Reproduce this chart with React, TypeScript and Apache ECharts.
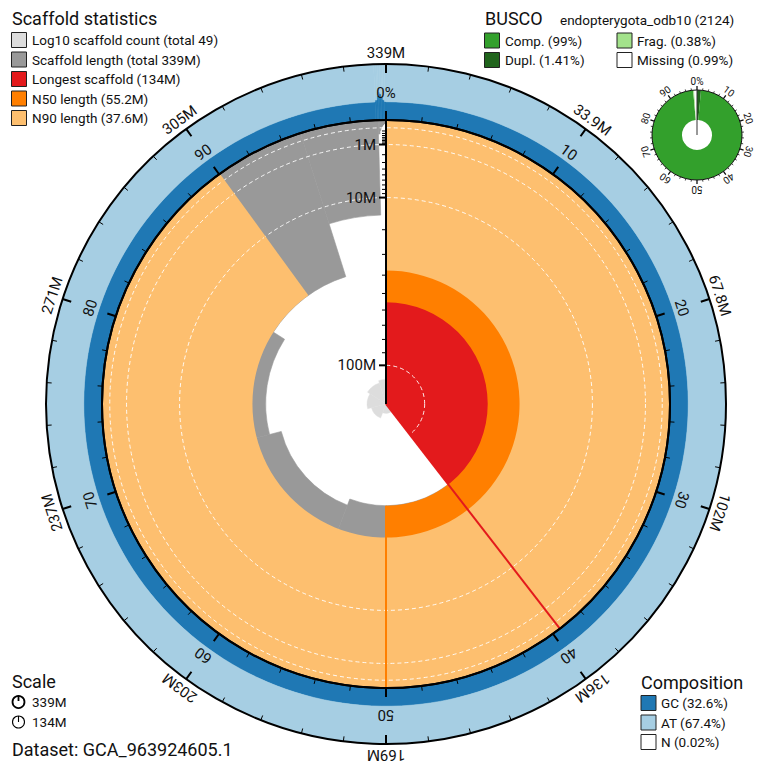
import React, { useEffect, useRef } from "react";
import * as echarts from "echarts";

// ---------------- data ----------------
// scaffold lengths in Mb, sorted descending (49 scaffolds)
const scaffoldLengthsMb = [
  134.0, 55.2, 51.3, 44.5, 37.6, 15.0, 0.32, 0.18, 0.11, 0.085, 0.07, 0.06, 0.052, 0.046, 0.041, 0.037,
  0.034, 0.031, 0.029, 0.027, 0.025, 0.024, 0.022, 0.021, 0.02, 0.019, 0.018, 0.017, 0.016, 0.015, 0.015,
  0.014, 0.013, 0.013, 0.012, 0.012, 0.011, 0.011, 0.01, 0.01, 0.0095, 0.009, 0.0085, 0.008, 0.0075,
  0.007, 0.0065, 0.006, 0.0055,
];
const scaffoldCount = 49;
const n50Mb = 55.2;
const n90Mb = 37.6;
const statPct = [50, 90]; // N50, N90 positions (% of assembly)
const totalLabel = "339M";
const longestLabel = "134M";
const n50Label = "55.2M";
const n90Label = "37.6M";

const assemblyTickPct = [0, 10, 20, 30, 40, 50, 60, 70, 80, 90];
const assemblyTickLabels = ["339M", "33.9M", "67.8M", "102M", "136M", "169M", "203M", "237M", "271M", "305M"];
const percentTickLabels = ["0%", "10", "20", "30", "40", "50", "60", "70", "80", "90"];

const lengthMajorTicksMb = [100, 10, 1];
const lengthMajorLabels = ["100M", "10M", "1M"];
const lengthMinorTicksMb = [90, 80, 70, 60, 50, 40, 30, 20, 9, 8, 7, 6, 5, 4, 3, 2, 0.9, 0.8, 0.7, 0.6, 0.5, 0.4, 0.3, 0.2];
const lengthGridMb = [100, 10, 1, 0.1];

// base composition per bin (% of assembly)
const compStartPct = [0, 99.42, 99.52, 99.6, 99.68, 99.76, 99.84, 99.92];
const compEndPct = [99.42, 99.52, 99.6, 99.68, 99.76, 99.84, 99.92, 100];
const compGcPct = [32.6, 36, 43, 50, 47, 41, 36, 33];
const gcTotal = 32.6;
const atTotal = 67.4;
const nTotal = 0.02;

// BUSCO
const buscoSet = "endopterygota_odb10 (2124)";
const buscoSliceNames = ["Dupl.", "Comp. (single)", "Frag.", "Missing"];
const buscoSlicePct = [1.41, 97.22, 0.38, 0.99];
const buscoCompletePct = 99;
const buscoTickPct = [0, 10, 20, 30, 40, 50, 60, 70, 80, 90];

const datasetName = "GCA_963924605.1";

// ---------------- colours ----------------
const C = {
  count: "#dddddd",
  length: "#999999",
  longest: "#e31a1c",
  n50: "#ff7f00",
  n90: "#fdbf6f",
  gc: "#1f78b4",
  at: "#a6cee3",
  comp: "#33a02c",
  dupl: "#20641c",
  frag: "#a3e28b",
  missing: "#ffffff",
};
const FONT = "Roboto";

// ---------------- derived ----------------
const LMAX = scaffoldLengthsMb[0];
const TOTAL = scaffoldLengthsMb.reduce((a, b) => a + b, 0);
const depth = (L: number) => 1 - Math.sqrt(L / LMAX); // radial value (0 = centre, 1 = edge)
const cumStart: number[] = [];
const cumEnd: number[] = [];
{
  let acc = 0;
  scaffoldLengthsMb.forEach((L) => {
    cumStart.push((acc / TOTAL) * 100);
    acc += L;
    cumEnd.push((acc / TOTAL) * 100);
  });
}

const TAU = Math.PI * 2;
const ctr = (params: any) => [params.coordSys.cx, params.coordSys.cy];
const dist = (p: number[], c: number[]) => Math.hypot(p[0] - c[0], p[1] - c[1]);
const angOf = (api: any, c: number[], refR: number, a: number) => {
  const p = api.coord([refR, a]);
  return Math.atan2(p[1] - c[1], p[0] - c[0]);
};

function sectorRender(fill: string, refR: number, seam = 0.6) {
  return (params: any, api: any) => {
    const c = ctr(params);
    const rIn = api.value(0);
    const a0 = api.value(1);
    const a1 = api.value(2);
    const rOut = api.value(3);
    const s = angOf(api, c, refR, a0);
    let d = angOf(api, c, refR, a1) - s;
    while (d <= 1e-9) d += TAU;
    const r0 = dist(api.coord([rIn, a0]), c);
    const r = dist(api.coord([rOut, a0]), c);
    if (r - r0 < 0.01) return null;
    return {
      type: "sector",
      shape: { cx: c[0], cy: c[1], r0, r, startAngle: s, endAngle: s + d, clockwise: true },
      style: { fill, stroke: seam > 0 ? fill : "none", lineWidth: seam },
      silent: true,
    };
  };
}

function radialLineRender(colors: string[], width: number) {
  return (params: any, api: any) => {
    const c = ctr(params);
    const a = api.value(1);
    const p0 = api.coord([api.value(0), a]);
    const p1 = api.coord([api.value(2), a]);
    return {
      type: "line",
      shape: { x1: p0[0], y1: p0[1], x2: p1[0], y2: p1[1] },
      style: { stroke: colors[params.dataIndex % colors.length], lineWidth: width, lineCap: "butt" },
      silent: true,
    };
  };
}

function ringLabelRender(labels: string[], offset: number, size: number) {
  return (params: any, api: any) => {
    const c = ctr(params);
    const p = api.coord([api.value(0), api.value(1)]);
    const dx = p[0] - c[0];
    const dy = p[1] - c[1];
    const r = Math.hypot(dx, dy);
    const ang = Math.atan2(dy, dx);
    return {
      type: "text",
      x: p[0] + (dx / r) * offset,
      y: p[1] + (dy / r) * offset,
      rotation: -(ang + Math.PI / 2),
      style: {
        text: labels[params.dataIndex],
        fontSize: size,
        fontFamily: FONT,
        fill: "#111",
        align: "center",
        verticalAlign: "middle",
        textAlign: "center",
        textVerticalAlign: "middle",
      },
      silent: true,
    };
  };
}

function radialTickRender(len: number, width: number, labels: string[] | null) {
  return (params: any, api: any) => {
    const c = ctr(params);
    const a = api.value(1);
    const p = api.coord([api.value(0), a]);
    const pe = api.coord([1, a]);
    const L = dist(pe, c);
    const ux = (pe[0] - c[0]) / L;
    const uy = (pe[1] - c[1]) / L;
    const px = uy;
    const py = -ux; // left-hand perpendicular
    const children: any[] = [
      {
        type: "line",
        shape: { x1: p[0], y1: p[1], x2: p[0] + px * len, y2: p[1] + py * len },
        style: { stroke: "#000", lineWidth: width },
      },
    ];
    if (labels) {
      children.push({
        type: "text",
        x: p[0] + px * (len + 3),
        y: p[1] + py * (len + 3),
        style: {
          text: labels[params.dataIndex],
          fontSize: 15,
          fontFamily: FONT,
          fill: "#111",
          align: "right",
          verticalAlign: "middle",
          textAlign: "right",
          textVerticalAlign: "middle",
        },
      });
    }
    return { type: "group", children, silent: true };
  };
}

function gridCircleRender(params: any, api: any) {
  const c = ctr(params);
  const r = dist(api.coord([api.value(0), 0]), c);
  return {
    type: "circle",
    shape: { cx: c[0], cy: c[1], r },
    style: { fill: "none", stroke: "#ffffff", lineWidth: 1, lineDash: [4, 3], opacity: 0.9 },
    silent: true,
  };
}

// ---------------- legends (graphic) ----------------
function gText(x: number, y: number, text: string, size: number, align = "left") {
  return {
    type: "text",
    x,
    y,
    silent: true,
    style: {
      text,
      fontSize: size,
      fontFamily: FONT,
      fill: "#111",
      align,
      verticalAlign: "middle",
      textAlign: align,
      textVerticalAlign: "middle",
    },
  };
}
function gSwatch(x: number, y: number, fill: string) {
  return {
    type: "rect",
    silent: true,
    shape: { x, y, width: 15, height: 15 },
    style: { fill, stroke: "#222", lineWidth: 1 },
  };
}

function buildGraphic() {
  const els: any[] = [];
  // Scaffold statistics
  els.push(gText(12, 18, "Scaffold statistics", 18));
  const rows = [
    [C.count, `Log10 scaffold count (total ${scaffoldCount})`],
    [C.length, `Scaffold length (total ${totalLabel})`],
    [C.longest, `Longest scaffold (${longestLabel})`],
    [C.n50, `N50 length (${n50Label})`],
    [C.n90, `N90 length (${n90Label})`],
  ];
  rows.forEach((r, i) => {
    const y = 40 + i * 19.5;
    els.push(gSwatch(11.5, y - 7.5, r[0]));
    els.push(gText(32, y, r[1], 13.5));
  });
  // BUSCO
  els.push(gText(485, 18, "BUSCO", 18));
  els.push(gText(560, 20, buscoSet, 13.5));
  const fmt = (v: number) => `${v}%`;
  const dup = buscoSlicePct[0];
  const frag = buscoSlicePct[2];
  const miss = buscoSlicePct[3];
  els.push(gSwatch(484.5, 33, C.comp));
  els.push(gText(505, 40.5, `Comp. (${fmt(buscoCompletePct)})`, 13.5));
  els.push(gSwatch(484.5, 52.5, C.dupl));
  els.push(gText(505, 60, `Dupl. (${fmt(dup)})`, 13.5));
  els.push(gSwatch(617, 33, C.frag));
  els.push(gText(637, 40.5, `Frag. (${fmt(frag)})`, 13.5));
  els.push(gSwatch(617, 52.5, C.missing));
  els.push(gText(637, 60, `Missing (${fmt(miss)})`, 13.5));
  // Scale
  els.push(gText(12, 681, "Scale", 18));
  els.push({ type: "circle", silent: true, shape: { cx: 18.5, cy: 702, r: 6 }, style: { fill: "none", stroke: "#000", lineWidth: 1.8 } });
  els.push({ type: "line", silent: true, shape: { x1: 18.5, y1: 696, x2: 18.5, y2: 701 }, style: { stroke: "#000", lineWidth: 1.8 } });
  els.push(gText(32, 702, totalLabel, 13.5));
  els.push({ type: "circle", silent: true, shape: { cx: 18.5, cy: 722, r: 6 }, style: { fill: "none", stroke: "#000", lineWidth: 1.1 } });
  els.push({ type: "line", silent: true, shape: { x1: 18.5, y1: 716, x2: 18.5, y2: 722 }, style: { stroke: "#000", lineWidth: 1.1 } });
  els.push(gText(32, 722, longestLabel, 13.5));
  els.push(gText(12, 749, `Dataset: ${datasetName}`, 18));
  // Composition
  els.push(gText(641, 682, "Composition", 18));
  const comp = [
    [C.gc, `GC (${gcTotal}%)`],
    [C.at, `AT (${atTotal}%)`],
    ["#ffffff", `N (${nTotal}%)`],
  ];
  comp.forEach((r, i) => {
    const y = 703 + i * 19.5;
    els.push(gSwatch(641, y - 7.5, r[0]));
    els.push(gText(661, y, r[1], 13.5));
  });
  return els;
}

function angleAxisBase(polarIndex: number, extra: any) {
  return {
    polarIndex,
    type: "value",
    min: 0,
    max: 100,
    interval: 10,
    startAngle: 90,
    clockwise: true,
    z: 10,
    axisLabel: { show: false },
    splitLine: { show: false },
    ...extra,
  };
}

function buildOption() {
  const scaffoldData = scaffoldLengthsMb.map((L, i) => [depth(L), cumStart[i], cumEnd[i], 1]);
  const countData = scaffoldLengthsMb.map((_, i) => [1, cumStart[i], cumEnd[i], i + 1]);
  const gcData = compStartPct.map((s, i) => [0, s, compEndPct[i], compGcPct[i]]);
  const atData = compStartPct.map((s, i) => [compGcPct[i], s, compEndPct[i], 100]);

  return {
    animation: false,
    textStyle: { fontFamily: FONT },
    polar: [
      { center: [386, 404], radius: [0, 284] },
      { center: [386, 404], radius: [0, 63] },
      { center: [386, 404], radius: [284, 340] },
      { center: [697, 135], radius: [0, 45] },
    ],
    angleAxis: [
      angleAxisBase(0, {
        axisLine: { show: true, lineStyle: { color: "#000", width: 2 } },
        axisTick: { show: true, inside: false, length: 9, lineStyle: { color: "#000", width: 2 } },
        minorTick: { show: true, splitNumber: 5, length: 5, lineStyle: { color: "#000", width: 1 } },
      }),
      angleAxisBase(1, { show: false }),
      angleAxisBase(2, {
        axisLine: { show: true, lineStyle: { color: "#000", width: 2 } },
        axisTick: { show: true, inside: true, length: 9, lineStyle: { color: "#000", width: 2 } },
        minorTick: { show: true, splitNumber: 5, length: 5, lineStyle: { color: "#000", width: 1 } },
      }),
      angleAxisBase(3, {
        axisLine: { show: true, lineStyle: { color: "#111", width: 1 } },
        axisTick: { show: true, inside: false, length: 4, lineStyle: { color: "#111", width: 1.3 } },
        minorTick: { show: true, splitNumber: 5, length: 2, lineStyle: { color: "#111", width: 0.8 } },
      }),
    ],
    radiusAxis: [
      { polarIndex: 0, type: "value", min: 0, max: 1, show: false },
      { polarIndex: 1, type: "log", logBase: 10, min: 1, max: 100, show: false },
      { polarIndex: 2, type: "value", min: 0, max: 100, show: false },
      { polarIndex: 3, type: "value", min: 0, max: 1, show: false },
    ],
    graphic: buildGraphic(),
    series: [
      // scaffold length distribution
      { type: "custom", coordinateSystem: "polar", polarIndex: 0, z: 1, silent: true, data: scaffoldData, renderItem: sectorRender(C.length, 1) },
      // longest scaffold
      { type: "custom", coordinateSystem: "polar", polarIndex: 0, z: 2, silent: true, data: [[0, 0, cumEnd[0], 1]], renderItem: sectorRender(C.longest, 1, 0) },
      // N50
      { type: "custom", coordinateSystem: "polar", polarIndex: 0, z: 3, silent: true, data: [[depth(n50Mb), 0, statPct[0], 1]], renderItem: sectorRender(C.n50, 1, 0) },
      // N90
      { type: "custom", coordinateSystem: "polar", polarIndex: 0, z: 4, silent: true, data: [[depth(n90Mb), 0, statPct[1], 1]], renderItem: sectorRender(C.n90, 1, 0) },
      // cumulative scaffold count (log)
      { type: "custom", coordinateSystem: "polar", polarIndex: 1, z: 5, silent: true, data: countData, renderItem: sectorRender(C.count, 100, 0.4) },
      // length scale lines
      { type: "custom", coordinateSystem: "polar", polarIndex: 0, z: 6, silent: true, data: lengthGridMb.map((L) => [depth(L), 0]), renderItem: gridCircleRender },
      // longest / N50 / N90 radial lines
      {
        type: "custom", coordinateSystem: "polar", polarIndex: 0, z: 7, silent: true,
        data: [[0, cumEnd[0], 1], [depth(n50Mb), statPct[0], 1], [depth(n90Mb), statPct[1], 1]],
        renderItem: radialLineRender([C.longest, C.n50, C.n90], 2),
      },
      // composition ring
      { type: "custom", coordinateSystem: "polar", polarIndex: 2, z: 1, silent: true, data: gcData, renderItem: sectorRender(C.gc, 100) },
      { type: "custom", coordinateSystem: "polar", polarIndex: 2, z: 1, silent: true, data: atData, renderItem: sectorRender(C.at, 100) },
      // radial length axis
      { type: "custom", coordinateSystem: "polar", polarIndex: 0, z: 20, silent: true, data: [[0, 0, 1]], renderItem: radialLineRender(["#000"], 2) },
      { type: "custom", coordinateSystem: "polar", polarIndex: 0, z: 20, silent: true, data: lengthMajorTicksMb.map((L) => [depth(L), 0]), renderItem: radialTickRender(7, 2, lengthMajorLabels) },
      { type: "custom", coordinateSystem: "polar", polarIndex: 0, z: 20, silent: true, data: lengthMinorTicksMb.map((L) => [depth(L), 0]), renderItem: radialTickRender(4, 1, null) },
      // angle labels
      { type: "custom", coordinateSystem: "polar", polarIndex: 0, z: 21, silent: true, data: assemblyTickPct.map((p) => [1, p]), renderItem: ringLabelRender(percentTickLabels, 27, 15) },
      { type: "custom", coordinateSystem: "polar", polarIndex: 2, z: 21, silent: true, data: assemblyTickPct.map((p) => [100, p]), renderItem: ringLabelRender(assemblyTickLabels, 11, 15) },
      { type: "custom", coordinateSystem: "polar", polarIndex: 3, z: 21, silent: true, data: buscoTickPct.map((p) => [1, p]), renderItem: ringLabelRender(percentTickLabels, 9, 10) },
      // BUSCO donut
      {
        type: "pie",
        center: [697, 135],
        radius: [15, 45],
        startAngle: 90,
        clockwise: true,
        silent: true,
        z: 2,
        label: { show: false },
        labelLine: { show: false },
        itemStyle: { borderWidth: 0 },
        data: buscoSliceNames.map((n, i) => ({
          name: n,
          value: buscoSlicePct[i],
          itemStyle: { color: [C.dupl, C.comp, C.frag, C.missing][i] },
        })),
      },
      { type: "custom", coordinateSystem: "polar", polarIndex: 3, z: 22, silent: true, data: [[0, 0, 1]], renderItem: radialLineRender(["#333"], 1) },
    ],
  };
}

export default function App() {
  const ref = useRef<HTMLDivElement>(null);
  useEffect(() => {
    if (!ref.current) return;
    const chart = echarts.init(ref.current, null, { renderer: "svg" });
    chart.setOption(buildOption() as any);
    return () => chart.dispose();
  }, []);
  return <div ref={ref} style={{ position: "absolute", left: 0, top: 0, width: 764, height: 769, background: "#fff" }} />;
}
